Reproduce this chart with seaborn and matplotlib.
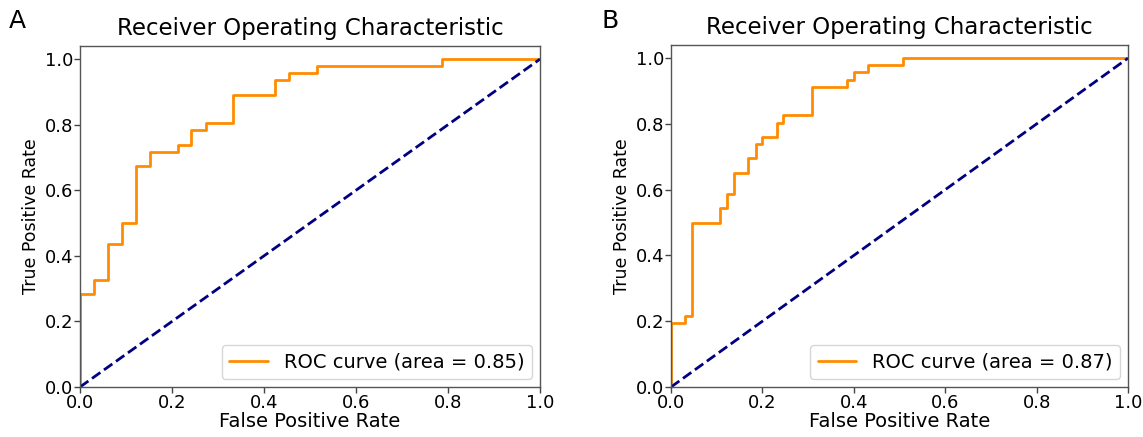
import numpy as np
import pandas as pd
import matplotlib
matplotlib.use("Agg")
import matplotlib.pyplot as plt
import seaborn as sns

# Panel A ROC curve (corner points)
fpr_a = [0.0, 0.0, 0.030, 0.030, 0.061, 0.061, 0.091, 0.091, 0.121, 0.121,
         0.152, 0.152, 0.212, 0.212, 0.242, 0.242, 0.273, 0.273, 0.333, 0.333,
         0.424, 0.424, 0.455, 0.455, 0.515, 0.515, 0.788, 0.788, 1.0]
tpr_a = [0.0, 0.283, 0.283, 0.326, 0.326, 0.435, 0.435, 0.500, 0.500, 0.674,
         0.674, 0.717, 0.717, 0.739, 0.739, 0.783, 0.783, 0.804, 0.804, 0.891,
         0.891, 0.935, 0.935, 0.957, 0.957, 0.978, 0.978, 1.0, 1.0]
auc_a = 0.85

# Panel B ROC curve (corner points)
fpr_b = [0.0, 0.0, 0.031, 0.031, 0.046, 0.046, 0.108, 0.108, 0.123, 0.123,
         0.138, 0.138, 0.169, 0.169, 0.185, 0.185, 0.200, 0.200, 0.231, 0.231,
         0.246, 0.246, 0.308, 0.308, 0.385, 0.385, 0.400, 0.400, 0.431, 0.431,
         0.508, 0.508, 1.0]
tpr_b = [0.0, 0.196, 0.196, 0.217, 0.217, 0.500, 0.500, 0.543, 0.543, 0.587,
         0.587, 0.652, 0.652, 0.696, 0.696, 0.739, 0.739, 0.761, 0.761, 0.804,
         0.804, 0.826, 0.826, 0.913, 0.913, 0.935, 0.935, 0.957, 0.957, 0.978,
         0.978, 1.0, 1.0]
auc_b = 0.87

diag = [0.0, 1.0]
ticks = [0.0, 0.2, 0.4, 0.6, 0.8, 1.0]
tick_labels = ["0.0", "0.2", "0.4", "0.6", "0.8", "1.0"]
panels = ["A", "B"]

sns.set_theme(style="ticks")
plt.rcParams['font.family'] = ['DejaVu Sans']
for k in ["text.color", "axes.labelcolor", "xtick.color", "ytick.color"]:
    plt.rcParams[k] = "black"

fig = plt.figure(figsize=(11.43, 4.37), dpi=100)
W, H = 1143, 437
ax_a = fig.add_axes([80/W, (H-387)/H, 460/W, 341/H])
ax_b = fig.add_axes([671/W, (H-387)/H, 457/W, 342/H])

for ax, fpr, tpr, auc in [(ax_a, fpr_a, tpr_a, auc_a),
                          (ax_b, fpr_b, tpr_b, auc_b)]:
    df = pd.DataFrame({"fpr": fpr, "tpr": tpr})
    sns.lineplot(data=df, x="fpr", y="tpr", sort=False, estimator=None,
                 color="darkorange", lw=2, ax=ax,
                 label="ROC curve (area = %0.2f)" % auc)
    dd = pd.DataFrame({"x": diag, "y": diag})
    sns.lineplot(data=dd, x="x", y="y", sort=False, estimator=None,
                 color="navy", lw=2, linestyle="--", ax=ax)
    ax.set_xlim(0.0, 1.0)
    ax.set_ylim(0.0, 1.04)
    ax.set_xticks(ticks)
    ax.set_xticklabels(tick_labels)
    ax.set_yticks(ticks)
    ax.set_yticklabels(tick_labels)
    ax.tick_params(labelsize=13, length=4, width=1, pad=1, color="#444444")
    ax.set_xlabel("False Positive Rate", fontsize=14, labelpad=0)
    ax.set_ylabel("True Positive Rate", fontsize=12.5, labelpad=3)
    ax.set_title("Receiver Operating Characteristic", fontsize=16.5, pad=8)
    for s in ax.spines.values():
        s.set_color("#555555")
        s.set_linewidth(1)
    leg = ax.legend(loc="lower right", fontsize=14, frameon=True,
                    borderaxespad=0.4)
    leg.get_frame().set_edgecolor("#cccccc")

fig.text(9/W, 1 - 21/H, panels[0], fontsize=18, va="center", ha="left")
fig.text(602/W, 1 - 21/H, panels[1], fontsize=18, va="center", ha="left")

fig.savefig("out.png", dpi=100, facecolor="white")
